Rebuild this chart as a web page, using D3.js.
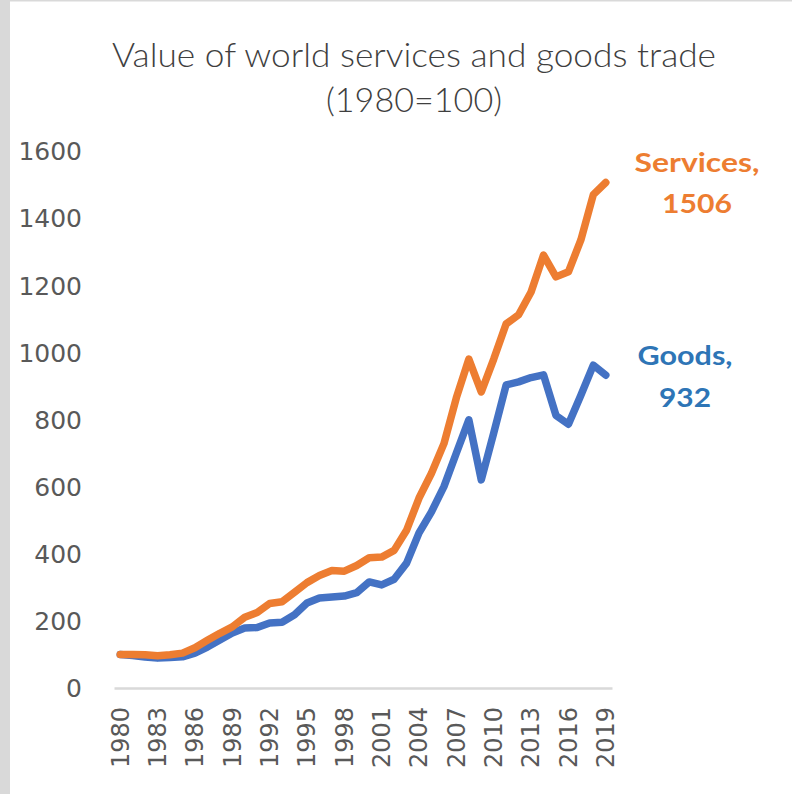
<!DOCTYPE html>
<html><head><meta charset="utf-8">
<script src="https://cdn.jsdelivr.net/npm/d3@7"></script>
<style>html,body{margin:0;padding:0;background:#fff;}svg{display:block;}</style>
</head><body>
<script>
const years = d3.range(1980, 2020);
const services = [100,100,99,96,99,104,120,142,163,182,211,225,252,257,285,314,335,350,348,365,388,390,410,470,566,640,728,865,980,882,980,1085,1112,1180,1290,1225,1240,1335,1470,1506];
const goods = [100,97,92,89,91,93,104,122,143,164,179,180,194,196,218,253,268,271,274,284,316,307,324,372,462,525,600,700,799,620,760,903,912,925,933,812,786,872,962,932];
const yTicks = [0,200,400,600,800,1000,1200,1400,1600];
const xTickYears = years.filter((y,i)=> i % 3 === 0);
const title = ["Value of world services and goods trade", "(1980=100)"];
const labels = [{name:"Services", value:1506, color:"#ED7D31"},{name:"Goods", value:932, color:"#2E75B6"}];

const W = 792, H = 794;
const svg = d3.select("body").append("svg").attr("width", W).attr("height", H);
svg.append("rect").attr("x",0).attr("y",0).attr("width",W).attr("height",H).attr("fill","#fff");
svg.append("rect").attr("x",0).attr("y",0).attr("width",10).attr("height",H).attr("fill","#d9d9d9");
svg.append("rect").attr("x",0).attr("y",0).attr("width",W).attr("height",1.5).attr("fill","#d9d9d9");

const x = d3.scaleBand().domain(years).range([114, 612]);
const y = d3.scaleLinear().domain([0,1600]).range([688, 151]);

// title
svg.append("text").attr("x",414).attr("y",67).attr("text-anchor","middle")
  .attr("font-family","Lato, 'Open Sans', sans-serif").attr("font-weight",300).attr("font-size",33).attr("fill","#3f3f3f")
  .attr("textLength",604).attr("lengthAdjust","spacingAndGlyphs").text(title[0]);
svg.append("text").attr("x",414).attr("y",112).attr("text-anchor","middle")
  .attr("font-family","Lato, 'Open Sans', sans-serif").attr("font-weight",300).attr("font-size",33).attr("fill","#3f3f3f")
  .attr("textLength",176).attr("lengthAdjust","spacingAndGlyphs").text(title[1]);

// y axis labels
const yAxis = d3.axisLeft(y).tickValues(yTicks).tickFormat(d3.format("d")).tickSize(0).tickPadding(0);
const gy = svg.append("g").attr("transform","translate(82,0)").call(yAxis);
gy.select(".domain").remove();
gy.selectAll("text").attr("font-family","'DejaVu Sans', sans-serif").attr("font-size",25).attr("fill","#595959").attr("dy","0.35em");

// x axis
const xAxis = d3.axisBottom(x).tickValues(xTickYears).tickSize(0).tickPadding(0);
const gx = svg.append("g").attr("transform","translate(0,688)").call(xAxis);
gx.select(".domain").attr("stroke","#d9d9d9").attr("stroke-width",2.5);
gx.selectAll("text").attr("font-family","'DejaVu Sans', sans-serif").attr("font-size",24).attr("fill","#595959")
  .attr("text-anchor","end").attr("transform","translate(0,19) rotate(-90)").attr("x",0).attr("y",0).attr("dy","0.35em");

const line = d3.line().x((d,i)=> x(years[i]) + x.bandwidth()/2).y(d=> y(d));
svg.append("path").datum(goods).attr("d",line).attr("fill","none").attr("stroke","#4472C4").attr("stroke-width",7.5).attr("stroke-linejoin","round").attr("stroke-linecap","round");
svg.append("path").datum(services).attr("d",line).attr("fill","none").attr("stroke","#ED7D31").attr("stroke-width",7.5).attr("stroke-linejoin","round").attr("stroke-linecap","round");

// labels
const lpos = [{cx:697, y1:172, y2:213, w1:125, w2:70},{cx:685, y1:365, y2:407, w1:95, w2:52}];
labels.forEach((l,i)=>{
  const p = lpos[i];
  svg.append("text").attr("x",p.cx).attr("y",p.y1).attr("text-anchor","middle")
    .attr("font-family","Lato, 'Open Sans', sans-serif").attr("font-weight","bold").attr("font-size",27).attr("fill",l.color)
    .attr("textLength",p.w1).attr("lengthAdjust","spacingAndGlyphs").text(l.name + ",");
  svg.append("text").attr("x",p.cx).attr("y",p.y2).attr("text-anchor","middle")
    .attr("font-family","Lato, 'Open Sans', sans-serif").attr("font-weight","bold").attr("font-size",27).attr("fill",l.color)
    .attr("textLength",p.w2).attr("lengthAdjust","spacingAndGlyphs").text(String(l.value));
});
</script>
</body></html>
